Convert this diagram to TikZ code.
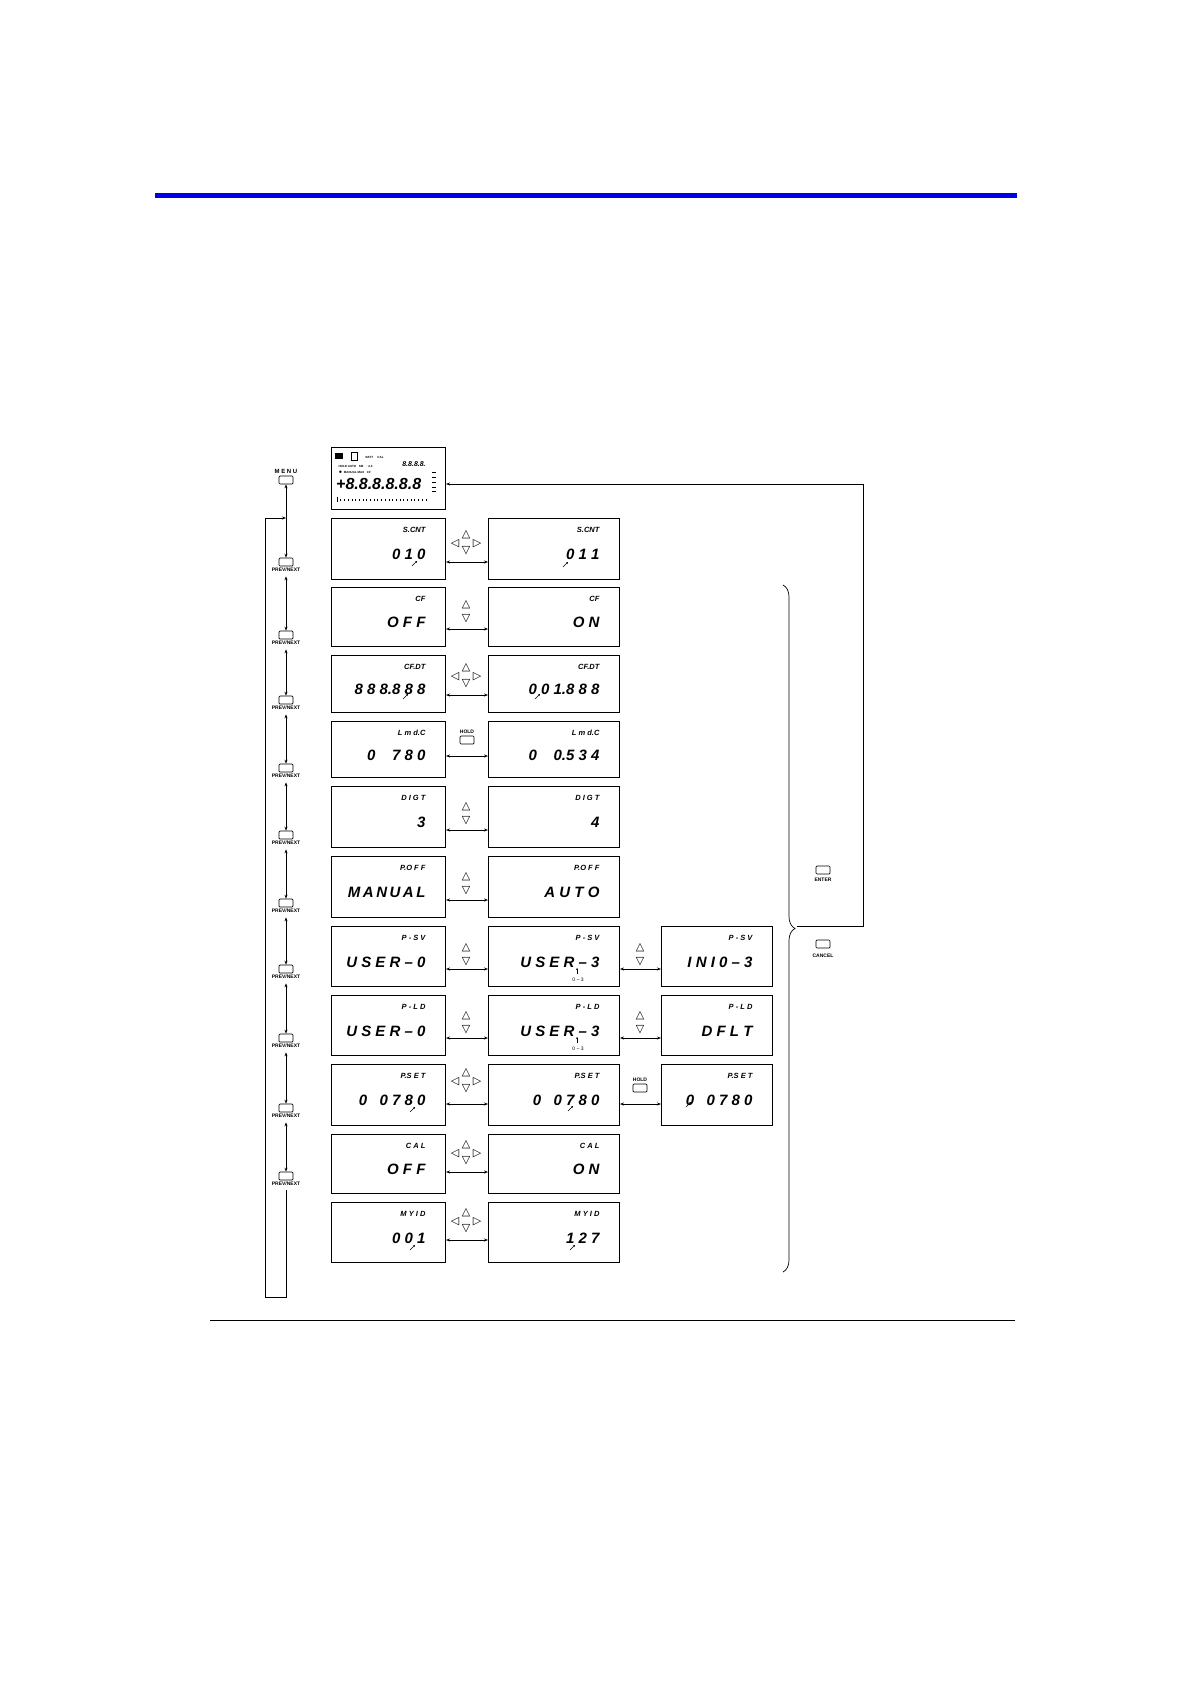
\documentclass[tikz,border=0pt]{standalone}
\usepackage{fontspec}
\setmainfont{Liberation Sans}
\newfontfamily\djvfont{DejaVu Sans}
\usetikzlibrary{arrows.meta,decorations.pathreplacing}
\definecolor{barblue}{RGB}{0,0,230}
\tikzset{
  disp/.style={draw,line width=0.8pt},
  lab/.style={font=\fontsize{7.5}{8}\selectfont\bfseries\itshape,anchor=north east},
  val/.style={font=\fontsize{15}{15}\selectfont\bfseries\itshape,anchor=east},
  btn/.style={draw,rounded corners=1pt,minimum width=14pt,minimum height=8pt,inner sep=0pt,line width=0.7pt},
  btnlab/.style={font=\fontsize{5}{5}\selectfont\bfseries,inner sep=0pt},
  dar/.style={{Stealth[length=4pt,width=3pt]}-{Stealth[length=4pt,width=3pt]},line width=0.7pt},
  sym/.style={font=\djvfont\fontsize{11}{11}\selectfont,inner sep=0pt},
  note/.style={font=\fontsize{5}{5}\selectfont,inner sep=0pt},
}
\newcommand{\dbox}[7]{% name x1 y1 x2 y2 label value
  \draw[disp] (#2,#3) rectangle (#4,#5);
  \coordinate (#1) at (#2,#3);
  \node[lab] at (#4-16,#3+6) {#6};
  \node[val] at (#4-16,{(#3+#5)/2+6}) {#7};}
\newcommand{\fourway}[2]{%
  \node[sym] (fw#1#2) at (#1,#2-10) {△};
  \node[sym] at (#1,#2+6) {▽};
  \node[sym] at (#1-11,#2-1) {◁};
  \node[sym] at (#1+11,#2-1) {▷};}
\newcommand{\twoway}[2]{%
  \node[sym] (tw#1#2) at (#1,#2-8) {△};
  \node[sym] at (#1,#2+6) {▽};}
\begin{document}
\begin{tikzpicture}[x=1pt,y=-1pt]
\useasboundingbox (0,0) rectangle (1190,1684);
\fill[barblue] (155,193) rectangle (1017,198);
\draw[line width=0.8pt] (210,1320) -- (1015,1320);
% main display
\draw[disp] (331,447) rectangle (445,509);
\node[font=\fontsize{16}{16}\selectfont\bfseries\itshape,anchor=west,inner sep=0pt] (mainv) at (336,484) {+8.8.8.8.8.8};
\node[font=\fontsize{7}{7}\selectfont\bfseries\itshape] at (414,464) {8.8.8.8.};
\node[font=\fontsize{3}{3}\selectfont\bfseries,anchor=west] at (335,466) {HOLD AUTO \ \ SM \ \ \ \ \ 2.0};
\node[font=\fontsize{3}{3}\selectfont\bfseries,anchor=west] at (335,472) {$\bullet$ \ MANUAL MAX \ \ CF};
\node[font=\fontsize{3}{3}\selectfont\bfseries,anchor=west] at (362,457) {BATT \ \ \ \ CAL};
\fill (335,453) rectangle (343,459);
\draw (351,452) rectangle (357,460);
\foreach \i in {0,...,24} {\draw[line width=0.6pt] ({337+\i*3.7},501) -- ({337+\i*3.7},499);}
\draw[line width=0.6pt] (337,497)--(337,502);
\foreach \yy in {472,477,482,487,491} \draw[line width=0.6pt] (432,\yy)--(436,\yy);
% MENU
\node[font=\fontsize{6}{6}\selectfont\bfseries] at (286,471) {M E N U};
\node[btn] (menu) at (286,480) {};
% prev/next buttons
\foreach \n/\yy in {1/562,2/635,3/700,4/768,5/835,6/903,7/969,8/1038,9/1108,10/1176}{
  \node[btn] (pn\n) at (286,\yy) {};
  \node[btnlab] at (286,\yy+8) {PREV/NEXT};
}
\draw[dar] (menu) -- (pn1);
\foreach \a/\b in {1/2,2/3,3/4,4/5,5/6,6/7,7/8,8/9,9/10}{
  \draw[dar] ([yshift=-10pt]pn\a.south) -- (pn\b.north);
}
\draw[line width=0.7pt] ([yshift=-10pt]pn10.south) -- (286,1297) -- (265,1297) -- (265,518);
\draw[line width=0.7pt,-{Stealth[length=4pt,width=3pt]}] (265,518) -- (286,518);
% rows
\dbox{a1}{331}{518}{445}{579}{S.CNT}{0 1 0}
\dbox{b1}{488}{518}{619}{579}{S.CNT}{0 1 1}
\dbox{a2}{331}{587}{445}{646}{CF}{O F F}
\dbox{b2}{488}{587}{619}{646}{CF}{O N}
\dbox{a3}{331}{655}{445}{712}{CF.DT}{8 8 8.8 8 8}
\dbox{b3}{488}{655}{619}{712}{CF.DT}{0 0 1.8 8 8}
\dbox{a4}{331}{721}{445}{777}{L m d.C}{0 \ \ \ 7 8 0}
\dbox{b4}{488}{721}{619}{777}{L m d.C}{0 \ \ \ 0.5 3 4}
\dbox{a5}{331}{786}{445}{847}{D I G T}{3}
\dbox{b5}{488}{786}{619}{847}{D I G T}{4}
\dbox{a6}{331}{856}{445}{917}{P.O F F}{M\,A\,N\,U\,A\,L}
\dbox{b6}{488}{856}{619}{917}{P.O F F}{A U T O}
\dbox{a7}{331}{926}{445}{986}{P - S V}{U S E R – 0}
\dbox{b7}{488}{926}{619}{986}{P - S V}{U S E R – 3}
\dbox{c7}{661}{926}{772}{986}{P - S V}{I N I 0 – 3}
\dbox{a8}{331}{995}{445}{1055}{P - L D}{U S E R – 0}
\dbox{b8}{488}{995}{619}{1055}{P - L D}{U S E R – 3}
\dbox{c8}{661}{995}{772}{1055}{P - L D}{D F L T}
\dbox{a9}{331}{1064}{445}{1125}{P.S E T}{0 \ \ 0 7 8 0}
\dbox{b9}{488}{1064}{619}{1125}{P.S E T}{0 \ \ 0 7 8 0}
\dbox{c9}{661}{1064}{772}{1125}{P.S E T}{0 \ \ 0 7 8 0}
\dbox{a10}{331}{1134}{445}{1193}{C A L}{O F F}
\dbox{b10}{488}{1134}{619}{1193}{C A L}{O N}
\dbox{a11}{331}{1202}{445}{1262}{M Y I D}{0 0 1}
\dbox{b11}{488}{1202}{619}{1262}{M Y I D}{1 2 7}
% horizontal double arrows
\foreach \yy in {562,629,695,756,830,900,969,1038,1104,1172,1240}{
  \draw[dar] (446,\yy) -- (488,\yy);}
\draw[dar] (620,969) -- (661,969);
\draw[dar] (620,1038) -- (661,1038);
\draw[dar] (620,1104) -- (661,1104);
% symbols
\fourway{466}{545}
\twoway{466}{613}
\fourway{466}{678}
\fourway{466}{1083}
\fourway{466}{1155}
\fourway{466}{1223}
\twoway{466}{815}
\twoway{466}{885}
\twoway{466}{956}
\twoway{466}{1024}
\twoway{640}{956}
\twoway{640}{1024}
\node[btnlab] at (467,732) {HOLD};
\node[btn] (hold1) at (467,740) {};
\node[btnlab] at (640,1080) {HOLD};
\node[btn] (hold2) at (640,1088) {};
% cursor marks
\foreach \x/\y in {412/566,563/567,403/699,535/699,410/1112,568/1111,410/1250,570/1250,686/1107}{
  \draw[line width=0.5pt,-{Stealth[length=2pt,width=2pt]}] (\x,\y) -- ++(5,-5);}
\draw[line width=0.4pt,-{Stealth[length=2pt,width=2pt]}] (577,974) -- (577,968);
\node[note] at (578,980) {0 \textasciitilde\ 3};
\draw[line width=0.4pt,-{Stealth[length=2pt,width=2pt]}] (577,1043) -- (577,1037);
\node[note] at (578,1049) {0 \textasciitilde\ 3};
% right side
\draw[decorate,decoration={brace,amplitude=12pt},line width=0.7pt] (783,585) -- (783,1272);
\node[btn] (enter) at (823,870) {};
\node[btnlab] at (823,880) {ENTER};
\node[btn] (cancel) at (823,944) {};
\node[btnlab] at (823,956) {CANCEL};
\coordinate (rt) at (863,484);
\draw[line width=0.7pt,-{Stealth[length=4pt,width=3pt]}] (797,926) -- (863,926) -- (rt) -- (446,484);
\end{tikzpicture}
\end{document}
